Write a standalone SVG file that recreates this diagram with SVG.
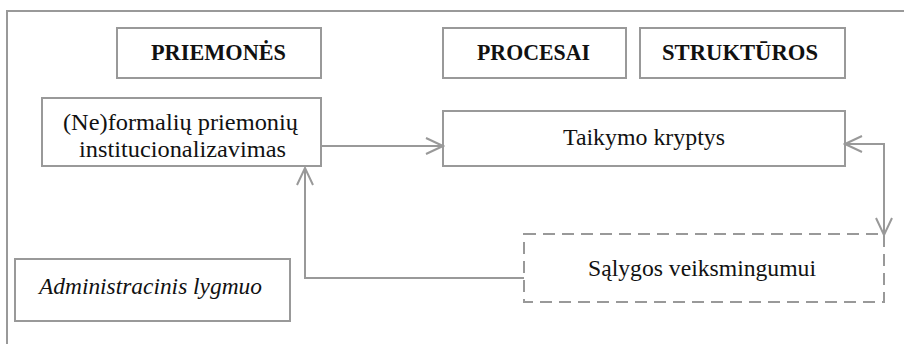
<svg xmlns="http://www.w3.org/2000/svg" width="904" height="344" viewBox="0 0 904 344">
<style>
.box{fill:#fff;stroke:#999;stroke-width:2}
.dash{fill:#fff;stroke:#999;stroke-width:2;stroke-dasharray:12,7}
.t{font-family:"Liberation Serif","DejaVu Serif",serif;font-size:23px;fill:#111;text-anchor:middle}
.b{font-weight:bold}
.i{font-style:italic}
.c{fill:none;stroke:#999;stroke-width:2}
</style>
<defs>
<marker id="ah" viewBox="0 0 20 20" refX="18" refY="10" markerWidth="20" markerHeight="20" markerUnits="userSpaceOnUse" orient="auto-start-reverse">
<path d="M1,2 L18,10 L1,18" fill="none" stroke="#999" stroke-width="2"/>
</marker>
</defs>
<rect x="7" y="11" width="910" height="350" fill="#fff" stroke="#999" stroke-width="2"/>
<g id="priemones"><rect class="box" x="117" y="28" width="204" height="50"/><text class="t b" x="218.5" y="60" textLength="135" lengthAdjust="spacingAndGlyphs">PRIEMONĖS</text></g>
<g id="procesai"><rect class="box" x="443" y="28" width="183" height="50"/><text class="t b" x="533.5" y="60" textLength="113" lengthAdjust="spacingAndGlyphs">PROCESAI</text></g>
<g id="strukturos"><rect class="box" x="640" y="28" width="205" height="50"/><text class="t b" x="740" y="60" textLength="156" lengthAdjust="spacingAndGlyphs">STRUKTŪROS</text></g>
<g id="neformaliu"><rect class="box" x="42" y="98" width="279" height="68"/><text class="t" x="180.5" y="129.5" textLength="235" lengthAdjust="spacingAndGlyphs">(Ne)formalių priemonių</text><text class="t" x="182.5" y="156.5" textLength="207" lengthAdjust="spacingAndGlyphs">institucionalizavimas</text></g>
<g id="taikymo"><rect class="box" x="443" y="111" width="402" height="55"/><text class="t" x="644" y="145" textLength="162" lengthAdjust="spacingAndGlyphs">Taikymo kryptys</text></g>
<g id="salygos"><rect class="dash" x="524" y="234" width="360" height="68"/><text class="t" x="702" y="276" textLength="228" lengthAdjust="spacingAndGlyphs">Sąlygos veiksmingumui</text></g>
<g id="administracinis"><rect class="box" x="15" y="259" width="275" height="62"/><text class="t i" x="150.5" y="294" textLength="223" lengthAdjust="spacingAndGlyphs">Administracinis lygmuo</text></g>
<g id="connectors">
<path class="c" d="M321,146 H443" marker-end="url(#ah)"/>
<path class="c" d="M845,144 H884 V235" marker-start="url(#ah)" marker-end="url(#ah)"/>
<path class="c" d="M524,278 H305 V168" marker-end="url(#ah)"/>
</g>
</svg>
